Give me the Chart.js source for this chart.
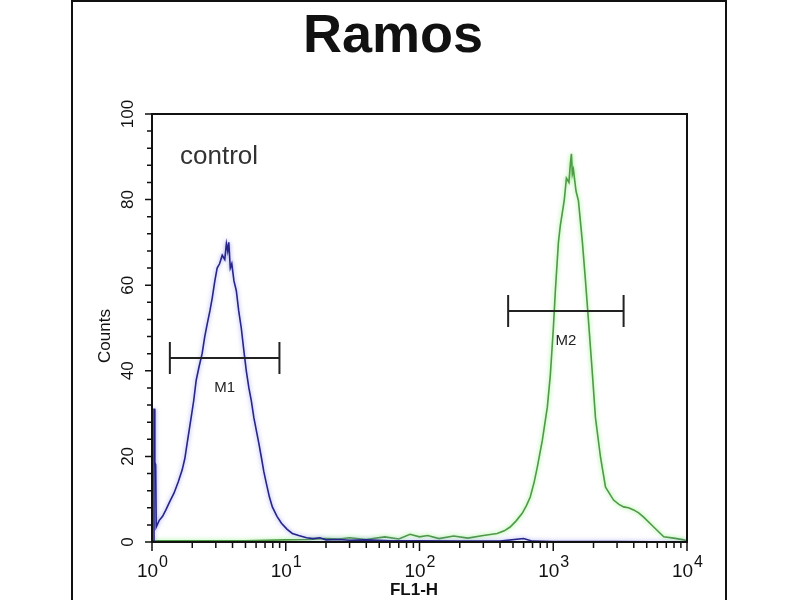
<!DOCTYPE html>
<html>
<head>
<meta charset="utf-8">
<script src="https://cdn.jsdelivr.net/npm/chart.js@4.4.1/dist/chart.umd.min.js"></script>
<style>
  html, body { margin: 0; padding: 0; background: #fff; }
  #wrap { width: 800px; height: 600px; }
</style>
</head>
<body>
<div id="wrap"><canvas id="chart" width="800" height="600"></canvas></div>
<script>
const titleText = 'Ramos';
const xTitle = 'FL1-H';
const yTitle = 'Counts';
const panelNote = 'control';
const xMajorTicks = [1, 10, 100, 1000, 10000];
const yMajorTicks = [0, 20, 40, 60, 80, 100];
const yMinorStep = 4;

// control histogram (blue)
const controlX = [1.0, 1.03, 1.035, 1.045, 1.05, 1.065, 1.075, 1.13, 1.2, 1.27, 1.36,
  1.46, 1.57, 1.68, 1.76, 1.83, 1.96, 2.05, 2.14, 2.25, 2.37,
  2.48, 2.59, 2.71, 2.82, 2.95, 3.07, 3.2, 3.35, 3.5, 3.6,
  3.68, 3.75, 3.85, 3.95, 4.1, 4.27, 4.45, 4.65, 4.85, 5.07,
  5.3, 5.53, 5.78, 6.03, 6.3, 6.57, 6.85, 7.16, 7.55, 7.94,
  8.6, 9.29, 10.2, 11.2, 12.5, 14.3, 16, 18, 20, 25,
  30, 40, 60, 100, 200, 400, 600, 700, 1000, 3000, 10000];
const controlY = [0.3, 0.3, 31, 31, 18.6, 18, 3.5, 5, 6, 7.5, 9.5,
  11.4, 14, 16.8, 19.5, 23, 29, 33, 37.8, 41, 44,
  48, 51, 54, 57, 61, 64, 65, 67, 66, 69.7,
  68, 70, 64, 65, 61, 58.7, 54, 50, 45, 40,
  36, 33, 29, 26, 23, 19.8, 16.5, 13.7, 10.5, 8.2,
  6, 4.4, 3, 2, 1.5, 1, 0.8, 1, 0.5, 0.6,
  0.4, 0.5, 0.3, 0.3, 0.2, 0.2, 0.8, 0.2, 0.1, 0.1, 0];

// sample histogram (green)
const sampleX = [1, 5, 10, 15, 20, 25, 30, 40, 55, 70,
  85, 100, 115, 140, 180, 230, 300, 381, 430, 476,
  530, 586, 630, 673, 720, 760, 829, 903, 951, 1002,
  1037, 1093, 1130, 1170, 1210, 1254, 1310, 1340, 1367, 1390,
  1415, 1480, 1543, 1652, 1742, 1834, 1965, 2069, 2256, 2460,
  2825, 3100, 3357, 3650, 3990, 4350, 4742, 5636, 6699, 7962,
  9460, 10000];
const sampleY = [0.3, 0.3, 0.5, 0.6, 0.8, 0.7, 1, 0.6, 1.2, 0.7,
  1.8, 1.2, 1.5, 0.8, 1.4, 0.9, 1.5, 2, 2.6, 3.5,
  5, 6.7, 8.5, 10.5, 14, 17.5, 23.8, 31.5, 39, 50,
  58.7, 70, 74, 77, 80, 85, 84, 88, 90.7, 86,
  87, 82, 79.7, 70, 61, 51.7, 39, 29, 19.8, 12.8,
  9.8, 8.8, 8.2, 8, 7.5, 6.8, 5.8, 3.5, 1.2, 0.9,
  0.5, 0.3];

// marker gates
const gateNames = ['M1', 'M2'];
const gateStart = [1.36, 460];
const gateEnd = [8.97, 3357];
const gateLevel = [43, 54];

const FONT = '"Liberation Sans", Arial, sans-serif';

const glow = {
  id: 'glow',
  beforeDatasetDraw(chart, args) {
    const ctx = chart.ctx;
    ctx.save();
    ctx.shadowColor = args.index === 0 ? 'rgba(110,110,240,0.7)' : 'rgba(120,235,100,0.9)';
    ctx.shadowBlur = 4;
  },
  afterDatasetDraw(chart) {
    chart.ctx.restore();
  }
};

const decor = {
  id: 'decor',
  afterDraw(chart) {
    const { ctx, chartArea: a, scales: { x, y } } = chart;
    ctx.save();
    ctx.strokeStyle = '#111';
    ctx.fillStyle = '#111';

    // outer panel
    ctx.lineWidth = 2;
    ctx.beginPath();
    ctx.moveTo(72, 600); ctx.lineTo(72, 1); ctx.lineTo(726, 1); ctx.lineTo(726, 600);
    ctx.stroke();

    // plot frame
    ctx.strokeRect(a.left, a.top, a.right - a.left, a.bottom - a.top);

    // x ticks (log)
    ctx.lineWidth = 1.5;
    ctx.beginPath();
    xMajorTicks.forEach((d, i) => {
      const px = x.getPixelForValue(d);
      ctx.moveTo(px, a.bottom); ctx.lineTo(px, a.bottom + 9);
      if (i < xMajorTicks.length - 1) {
        for (let k = 2; k < 10; k++) {
          const mx = x.getPixelForValue(d * k);
          ctx.moveTo(mx, a.bottom); ctx.lineTo(mx, a.bottom + 6);
        }
      }
    });
    // y ticks
    for (let v = 0; v <= 100; v += yMinorStep) {
      const py = y.getPixelForValue(v);
      const len = v % 20 === 0 ? 7 : 5;
      ctx.moveTo(a.left, py); ctx.lineTo(a.left - len, py);
    }
    ctx.stroke();

    // x tick labels with exponents
    ctx.textBaseline = 'alphabetic';
    xMajorTicks.forEach(d => {
      const px = x.getPixelForValue(d);
      const base = '10', exp = String(Math.round(Math.log10(d)));
      ctx.font = '19px ' + FONT;
      const wb = ctx.measureText(base).width;
      ctx.font = '16px ' + FONT;
      const we = ctx.measureText(exp).width;
      const left = px - (wb + we) / 2;
      ctx.font = '19px ' + FONT;
      ctx.textAlign = 'left';
      ctx.fillText(base, left, a.bottom + 35);
      ctx.font = '16px ' + FONT;
      ctx.fillText(exp, left + wb + 1, a.bottom + 25);
    });

    // y tick labels, rotated
    ctx.font = '17px ' + FONT;
    ctx.textAlign = 'center';
    ctx.textBaseline = 'middle';
    yMajorTicks.forEach(v => {
      const py = y.getPixelForValue(v);
      ctx.save();
      ctx.translate(a.left - 24, py);
      ctx.rotate(-Math.PI / 2);
      ctx.fillText(String(v), 0, 0);
      ctx.restore();
    });

    // axis titles
    ctx.save();
    ctx.font = '17px ' + FONT;
    ctx.translate(105, (a.top + a.bottom) / 2 + 8);
    ctx.rotate(-Math.PI / 2);
    ctx.fillText(yTitle, 0, 0);
    ctx.restore();
    ctx.font = 'bold 17px ' + FONT;
    ctx.fillText(xTitle, 414, 590);

    // title
    ctx.font = 'bold 54px ' + FONT;
    ctx.fillText(titleText, 393, 37);

    // note
    ctx.fillStyle = '#333';
    ctx.font = '26px ' + FONT;
    ctx.textAlign = 'left';
    ctx.fillText(panelNote, 180, 157);

    // gates
    ctx.strokeStyle = '#222';
    ctx.fillStyle = '#222';
    ctx.lineWidth = 2;
    ctx.font = '15px ' + FONT;
    ctx.textAlign = 'center';
    gateNames.forEach((name, i) => {
      const x0 = x.getPixelForValue(gateStart[i]);
      const x1 = x.getPixelForValue(gateEnd[i]);
      const py = y.getPixelForValue(gateLevel[i]);
      ctx.beginPath();
      ctx.moveTo(x0, py); ctx.lineTo(x1, py);
      ctx.moveTo(x0, py - 16); ctx.lineTo(x0, py + 16);
      ctx.moveTo(x1, py - 16); ctx.lineTo(x1, py + 16);
      ctx.stroke();
      ctx.fillText(name, (x0 + x1) / 2, py + 30);
    });
    ctx.restore();
  }
};

new Chart(document.getElementById('chart'), {
  type: 'line',
  data: {
    datasets: [
      {
        label: 'control',
        data: controlX.map((v, i) => ({ x: v, y: controlY[i] })),
        borderColor: '#25258a',
        borderWidth: 1.6,
        pointRadius: 0,
        tension: 0
      },
      {
        label: 'sample',
        data: sampleX.map((v, i) => ({ x: v, y: sampleY[i] })),
        borderColor: '#4f9a48',
        borderWidth: 1.6,
        pointRadius: 0,
        tension: 0
      }
    ]
  },
  options: {
    responsive: false,
    animation: false,
    devicePixelRatio: 1,
    layout: { padding: { left: 152, top: 114, right: 113, bottom: 58 } },
    plugins: { legend: { display: false }, tooltip: { enabled: false } },
    scales: {
      x: { type: 'logarithmic', min: 1, max: 10000, display: false },
      y: { type: 'linear', min: 0, max: 100, display: false }
    }
  },
  plugins: [glow, decor]
});
</script>
</body>
</html>
